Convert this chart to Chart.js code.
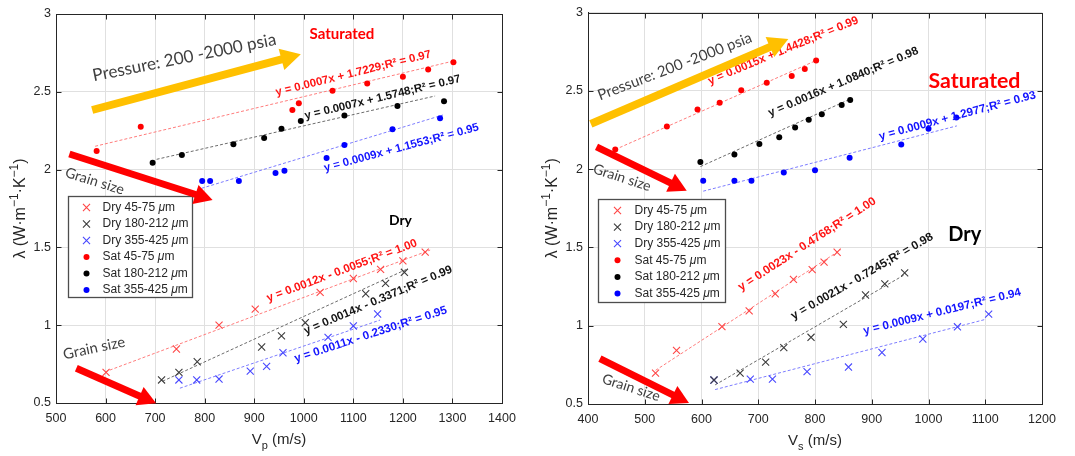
<!DOCTYPE html>
<html lang="en">
<head>
<meta charset="utf-8">
<title>Thermal conductivity vs wave velocity</title>
<script src="https://cdn.jsdelivr.net/npm/chart.js@4.4.1/dist/chart.umd.min.js"></script>
<style>
  html, body { margin: 0; padding: 0; background: #fff; }
  .panel { position: absolute; top: 0; height: 456px; }
  #vpPanel { left: 0; width: 537px; }
  #vsPanel { left: 537px; width: 538px; }
</style>
</head>
<body>
<div class="panel" id="vpPanel"><canvas id="vpChart"></canvas></div>
<div class="panel" id="vsPanel"><canvas id="vsChart"></canvas></div>
<script>
// Axis ticks
const vpTicks = [500, 600, 700, 800, 900, 1000, 1100, 1200, 1300, 1400];
const vsTicks = [400, 500, 600, 700, 800, 900, 1000, 1100, 1200];
const lambdaTicks = [0.5, 1, 1.5, 2, 2.5, 3];

const seriesNames = ['Dry 45-75', 'Dry 180-212', 'Dry 355-425', 'Sat 45-75', 'Sat 180-212', 'Sat 355-425'];

// P-wave velocity (m/s) vs conductivity (W/m/K)
const vpDry45 = [[601, 0.697], [743, 0.847], [829, 1.0], [902, 1.103], [1033, 1.211], [1100, 1.30], [1155, 1.359], [1200, 1.413], [1245, 1.470]];
const vpDry180 = [[713, 0.648], [748, 0.697], [785, 0.765], [915, 0.86], [955, 0.931], [1003, 1.016], [1125, 1.202], [1165, 1.269], [1203, 1.34]];
const vpDry355 = [[748, 0.648], [784, 0.648], [829, 0.654], [892, 0.705], [925, 0.735], [958, 0.823], [1049, 0.922], [1100, 0.995], [1149, 1.072]];
const vpSat45 = [[582, 2.12], [671, 2.276], [977, 2.383], [990, 2.426], [1058, 2.507], [1128, 2.554], [1200, 2.597], [1251, 2.644], [1302, 2.69]];
const vpSat180 = [[695, 2.044], [754, 2.094], [858, 2.163], [920, 2.203], [955, 2.263], [994, 2.312], [1082, 2.347], [1189, 2.409], [1283, 2.439]];
const vpSat355 = [[795, 1.927], [811, 1.927], [869, 1.927], [943, 1.978], [961, 1.993], [1046, 2.075], [1082, 2.158], [1179, 2.259], [1275, 2.330]];

// fitted line end points
const vpFitDry45 = [[599, 0.70], [1255, 1.483]];
const vpFitDry180 = [[715, 0.64], [1208, 1.36]];
const vpFitDry355 = [[750, 0.595], [1154, 1.033]];
const vpFitSat45 = [[579, 2.15], [1305, 2.70]];
const vpFitSat180 = [[703, 2.066], [1265, 2.473]];
const vpFitSat355 = [[794, 1.88], [1281, 2.351]];

const vpEquations = [
    'y = 0.0012x - 0.0055;R² = 1.00',
    'y = 0.0014x - 0.3371;R² = 0.99',
    'y = 0.0011x - 0.2330;R² = 0.95',
    'y = 0.0007x + 1.7229;R² = 0.97',
    'y = 0.0007x + 1.5748;R² = 0.97',
    'y = 0.0009x + 1.1553;R² = 0.95'
];

// S-wave velocity (m/s) vs conductivity (W/m/K)
const vsDry45 = [[519, 0.697], [556, 0.842], [636, 0.994], [684, 1.095], [730, 1.204], [762, 1.296], [795, 1.358], [816, 1.406], [839, 1.469]];
const vsDry180 = [[622, 0.653], [668, 0.697], [713, 0.767], [745, 0.860], [793, 0.926], [850, 1.008], [889, 1.196], [923, 1.267], [958, 1.337]];
const vsDry355 = [[622, 0.653], [686, 0.659], [725, 0.659], [786, 0.707], [859, 0.736], [918, 0.829], [990, 0.915], [1051, 0.993], [1106, 1.074]];
const vsSat45 = [[448, 2.125], [539, 2.272], [593, 2.381], [632, 2.424], [670, 2.504], [715, 2.552], [759, 2.594], [782, 2.64], [802, 2.693]];
const vsSat180 = [[598, 2.045], [658, 2.093], [702, 2.161], [737, 2.203], [765, 2.266], [789, 2.315], [812, 2.350], [847, 2.409], [862, 2.441]];
const vsSat355 = [[603, 1.926], [658, 1.926], [688, 1.926], [745, 1.978], [800, 1.993], [861, 2.072], [952, 2.157], [1000, 2.257], [1049, 2.329]];

const vsFitDry45 = [[519, 0.715], [845, 1.484]];
const vsFitDry180 = [[624, 0.622], [960, 1.33]];
const vsFitDry355 = [[624, 0.592], [1100, 1.04]];
const vsFitSat45 = [[448, 2.125], [806, 2.70]];
const vsFitSat180 = [[598, 2.016], [865, 2.452]];
const vsFitSat355 = [[603, 1.859], [1050, 2.276]];

const vsEquations = [
    'y = 0.0023x - 0.4768;R² = 1.00',
    'y = 0.0021x - 0.7245;R² = 0.98',
    'y = 0.0009x + 0.0197;R² = 0.94',
    'y = 0.0015x + 1.4428;R² = 0.99',
    'y = 0.0016x + 1.0840;R² = 0.98',
    'y = 0.0009x + 1.2977;R² = 0.93'
];

const axisFont = '"Liberation Sans", Arial, sans-serif';
const noteFont = 'Lato, "Open Sans", sans-serif';

const markerStyles = [
    { pointStyle: 'crossRot', color: '#ff4646', radius: 5 },
    { pointStyle: 'crossRot', color: '#3c3c3c', radius: 5 },
    { pointStyle: 'crossRot', color: '#4848ff', radius: 5 },
    { pointStyle: 'circle', color: '#ff0000', radius: 3 },
    { pointStyle: 'circle', color: '#000000', radius: 3 },
    { pointStyle: 'circle', color: '#0000ff', radius: 3 }
];
const fitColors = ['#ff7c7c', '#6c6c6c', '#7c7cff', '#ff7c7c', '#6c6c6c', '#7c7cff'];
const equationColors = ['#ff1414', '#141414', '#1414ff', '#ff1414', '#141414', '#1414ff'];

const YELLOW = '#ffc000';
const RED = '#ff0000';

// Layout of everything drawn on top of the plot area
const vpPanel = {
    canvas: 'vpChart',
    xTicks: vpTicks,
    xLabel: [{ t: 'V' }, { t: 'p', sub: true }, { t: ' (m/s)' }],
    padding: { left: 0, right: 35, top: 14, bottom: 0 },
    yAxisWidth: 56,
    xAxisHeight: 53,
    series: [vpDry45, vpDry180, vpDry355, vpSat45, vpSat180, vpSat355],
    fits: [vpFitDry45, vpFitDry180, vpFitDry355, vpFitSat45, vpFitSat180, vpFitSat355],
    equations: vpEquations,
    equationWidth: 160,
    equationPlaces: [
        { at: [1077, 1.35], angle: -20.5 },
        { at: [1150, 1.16], angle: -23 },
        { at: [1135, 0.94], angle: -18 },
        { at: [1100, 2.618], angle: -14 },
        { at: [1159, 2.464], angle: -13.5 },
        { at: [1197, 2.14], angle: -15 }
    ],
    notes: [
        { text: 'Saturated', at: [1077, 2.871], angle: 0, width: 65, color: '#ff0000', weight: 'bold' },
        { text: 'Dry', at: [1195, 1.670], angle: 0, width: 23, color: '#000000', weight: 'bold' },
        { text: 'Pressure: 200 -2000 psia', at: [759, 2.72], angle: -11.3, width: 187, color: '#404040' },
        { text: 'Grain size', at: [578, 1.925], angle: 17.4, width: 61, color: '#404040' },
        { text: 'Grain size', at: [577, 0.852], angle: -12, width: 63, color: '#404040' }
    ],
    arrows: [
        { from: [573, 2.383], to: [994, 2.741], color: YELLOW, shaft: 8, head: 20, headWidth: 22 },
        { from: [527, 2.10], to: [816, 1.805], color: RED, shaft: 7, head: 18, headWidth: 20 },
        { from: [541, 0.723], to: [702, 0.498], color: RED, shaft: 7, head: 18, headWidth: 20 }
    ],
    legend: { dx: 12, dy: 182, w: 124, h: 101, rowTop: 11, rowStep: 16.5, markerX: 18, textX: 34 }
};

const vsPanel = {
    canvas: 'vsChart',
    xTicks: vsTicks,
    xLabel: [{ t: 'V' }, { t: 's', sub: true }, { t: ' (m/s)' }],
    padding: { left: 0, right: 33, top: 8, bottom: 0 },
    yAxisWidth: 51,
    xAxisHeight: 52,
    series: [vsDry45, vsDry180, vsDry355, vsSat45, vsSat180, vsSat355],
    fits: [vsFitDry45, vsFitDry180, vsFitDry355, vsFitSat45, vsFitSat180, vsFitSat355],
    equations: vsEquations,
    equationWidth: 162,
    equationPlaces: [
        { at: [786, 1.52], angle: -33 },
        { at: [883, 1.315], angle: -30 },
        { at: [1024, 1.089], angle: -14 },
        { at: [744, 2.756], angle: -22.5 },
        { at: [850, 2.556], angle: -23 },
        { at: [1051, 2.34], angle: -15 }
    ],
    notes: [
        { text: 'Saturated', at: [1081, 2.56], angle: 0, width: 92, color: '#ff0000', weight: 'bold' },
        { text: 'Dry', at: [1064, 1.584], angle: 0, width: 33, color: '#000000', weight: 'bold' },
        { text: 'Pressure: 200 -2000 psia', at: [553, 2.655], angle: -21, width: 164, color: '#404040' },
        { text: 'Grain size', at: [460, 1.945], angle: 18, width: 60, color: '#404040' },
        { text: 'Grain size', at: [476, 0.604], angle: 18, width: 60, color: '#404040' }
    ],
    arrows: [
        { from: [405, 2.289], to: [753, 2.830], color: YELLOW, shaft: 8, head: 20, headWidth: 22 },
        { from: [415, 2.142], to: [574, 1.862], color: RED, shaft: 7, head: 18, headWidth: 20 },
        { from: [421, 0.790], to: [578, 0.506], color: RED, shaft: 7, head: 18, headWidth: 20 }
    ],
    legend: { dx: 10, dy: 186, w: 127, h: 103, rowTop: 11, rowStep: 16.6, markerX: 19, textX: 36 }
};

const lambdaLabel = [{ t: 'λ (W·m' }, { t: '−1', sup: true }, { t: '·K' }, { t: '−1', sup: true }, { t: ')' }];

function runFont(run, size) {
    const s = run.sup || run.sub ? Math.round(size * 0.72) : size;
    return `${s}px ${axisFont}`;
}

// draws text made of normal / superscript / subscript pieces, centred on (0,0)
function drawRuns(ctx, runs, size) {
    let total = 0;
    runs.forEach(run => {
        ctx.font = runFont(run, size);
        run.w = ctx.measureText(run.t).width;
        total += run.w;
    });
    let x = -total / 2;
    ctx.textAlign = 'left';
    ctx.textBaseline = 'middle';
    runs.forEach(run => {
        ctx.font = runFont(run, size);
        const dy = run.sup ? -size * 0.38 : run.sub ? size * 0.4 : 0;
        ctx.fillText(run.t, x, dy);
        x += run.w;
    });
}

function drawNote(ctx, note, xs, ys) {
    const weight = note.weight || 'normal';
    const family = note.family || noteFont;
    ctx.save();
    ctx.translate(xs.getPixelForValue(note.at[0]), ys.getPixelForValue(note.at[1]));
    ctx.rotate(note.angle * Math.PI / 180);
    ctx.font = `${weight} 20px ${family}`;
    const size = 20 * note.width / ctx.measureText(note.text).width;
    ctx.font = `${weight} ${size.toFixed(2)}px ${family}`;
    ctx.fillStyle = note.color;
    ctx.textAlign = 'center';
    ctx.textBaseline = 'middle';
    ctx.fillText(note.text, 0, 0);
    ctx.restore();
}

function drawArrow(ctx, arrow, xs, ys) {
    const x1 = xs.getPixelForValue(arrow.from[0]);
    const y1 = ys.getPixelForValue(arrow.from[1]);
    const x2 = xs.getPixelForValue(arrow.to[0]);
    const y2 = ys.getPixelForValue(arrow.to[1]);
    const len = Math.hypot(x2 - x1, y2 - y1);
    ctx.save();
    ctx.translate(x1, y1);
    ctx.rotate(Math.atan2(y2 - y1, x2 - x1));
    ctx.fillStyle = arrow.color;
    ctx.fillRect(0, -arrow.shaft / 2, len - arrow.head + 1, arrow.shaft);
    ctx.beginPath();
    ctx.moveTo(len, 0);
    ctx.lineTo(len - arrow.head, -arrow.headWidth / 2);
    ctx.lineTo(len - arrow.head, arrow.headWidth / 2);
    ctx.closePath();
    ctx.fill();
    ctx.restore();
}

function drawMarker(ctx, style, x, y) {
    ctx.save();
    ctx.fillStyle = style.color;
    ctx.strokeStyle = style.color;
    if (style.pointStyle === 'circle') {
        ctx.beginPath();
        ctx.arc(x, y, style.radius, 0, Math.PI * 2);
        ctx.fill();
    } else {
        const d = style.radius * Math.SQRT1_2;
        ctx.lineWidth = 1.1;
        ctx.beginPath();
        ctx.moveTo(x - d, y - d);
        ctx.lineTo(x + d, y + d);
        ctx.moveTo(x - d, y + d);
        ctx.lineTo(x + d, y - d);
        ctx.stroke();
    }
    ctx.restore();
}

function drawLegend(ctx, area, lg) {
    const left = Math.round(area.left + lg.dx) + 0.5;
    const top = Math.round(area.top + lg.dy) + 0.5;
    ctx.save();
    ctx.fillStyle = '#ffffff';
    ctx.fillRect(left, top, lg.w, lg.h);
    ctx.strokeStyle = '#4d4d4d';
    ctx.lineWidth = 1.3;
    ctx.strokeRect(left, top, lg.w, lg.h);
    ctx.textBaseline = 'middle';
    ctx.textAlign = 'left';
    seriesNames.forEach((name, i) => {
        const y = top + lg.rowTop + i * lg.rowStep;
        drawMarker(ctx, markerStyles[i], left + lg.markerX, y);
        ctx.fillStyle = '#262626';
        let x = left + lg.textX;
        ctx.font = `12px ${axisFont}`;
        ctx.fillText(name + ' ', x, y);
        x += ctx.measureText(name + ' ').width;
        ctx.font = `italic 12px ${axisFont}`;
        ctx.fillText('μ', x, y);
        x += ctx.measureText('μ').width;
        ctx.font = `12px ${axisFont}`;
        ctx.fillText('m', x, y);
    });
    ctx.restore();
}

function makeDecor(cfg) {
    return {
        id: 'panelDecor',
        afterDraw(chart) {
            const ctx = chart.ctx;
            const area = chart.chartArea;
            const xs = chart.scales.x;
            const ys = chart.scales.y;

            // box and inward tick marks
            ctx.save();
            ctx.strokeStyle = '#262626';
            ctx.lineWidth = 1;
            const l = Math.round(area.left) + 0.5, r = Math.round(area.right) + 0.5;
            const t = Math.round(area.top) + 0.5, b = Math.round(area.bottom) + 0.5;
            ctx.strokeRect(l, t, r - l, b - t);
            ctx.beginPath();
            cfg.xTicks.forEach(v => {
                const x = Math.round(xs.getPixelForValue(v)) + 0.5;
                ctx.moveTo(x, b); ctx.lineTo(x, b - 5);
                ctx.moveTo(x, t); ctx.lineTo(x, t + 5);
            });
            lambdaTicks.forEach(v => {
                const y = Math.round(ys.getPixelForValue(v)) + 0.5;
                ctx.moveTo(l, y); ctx.lineTo(l + 5, y);
                ctx.moveTo(r, y); ctx.lineTo(r - 5, y);
            });
            ctx.stroke();
            ctx.restore();

            cfg.equations.forEach((text, i) => {
                const place = cfg.equationPlaces[i];
                drawNote(ctx, {
                    text, at: place.at, angle: place.angle, width: cfg.equationWidth,
                    color: equationColors[i], weight: 'bold', family: axisFont
                }, xs, ys);
            });
            cfg.notes.forEach(note => drawNote(ctx, note, xs, ys));
            drawLegend(ctx, area, cfg.legend);
            cfg.arrows.forEach(arrow => drawArrow(ctx, arrow, xs, ys));

            // axis titles
            ctx.save();
            ctx.fillStyle = '#262626';
            ctx.translate((area.left + area.right) / 2, area.bottom + 37);
            drawRuns(ctx, cfg.xLabel, 15);
            ctx.restore();

            ctx.save();
            ctx.fillStyle = '#262626';
            ctx.translate(area.left - 35, (area.top + area.bottom) / 2);
            ctx.rotate(-Math.PI / 2);
            drawRuns(ctx, lambdaLabel, 16);
            ctx.restore();
        }
    };
}

function createPanel(cfg) {
    const datasets = [];
    cfg.series.forEach((points, i) => {
        const style = markerStyles[i];
        datasets.push({
            type: 'scatter',
            label: seriesNames[i],
            data: points.map(([x, y]) => ({ x, y })),
            pointStyle: style.pointStyle,
            pointRadius: style.radius,
            pointBorderWidth: style.pointStyle === 'circle' ? 0 : 1.1,
            pointBackgroundColor: style.color,
            pointBorderColor: style.color,
            order: 1
        });
    });
    cfg.fits.forEach((ends, i) => {
        datasets.push({
            type: 'line',
            data: ends.map(([x, y]) => ({ x, y })),
            borderColor: fitColors[i],
            borderWidth: 1,
            borderDash: [3, 2],
            pointRadius: 0,
            fill: false,
            order: 2
        });
    });

    const tickFont = { family: axisFont, size: 12.5 };
    return new Chart(document.getElementById(cfg.canvas), {
        type: 'scatter',
        data: { datasets },
        options: {
            responsive: true,
            maintainAspectRatio: false,
            animation: false,
            layout: { padding: cfg.padding },
            plugins: { legend: { display: false }, tooltip: { enabled: false } },
            scales: {
                x: {
                    type: 'linear',
                    min: cfg.xTicks[0],
                    max: cfg.xTicks[cfg.xTicks.length - 1],
                    afterBuildTicks: scale => { scale.ticks = cfg.xTicks.map(value => ({ value })); },
                    afterFit: scale => { scale.height = cfg.xAxisHeight; },
                    ticks: { color: '#262626', font: tickFont, padding: 8, maxRotation: 0, autoSkip: false, callback: v => String(v) },
                    grid: { color: '#e0e0e0', lineWidth: 1, drawTicks: false },
                    border: { display: true, color: '#262626', width: 1 }
                },
                y: {
                    type: 'linear',
                    min: lambdaTicks[0],
                    max: lambdaTicks[lambdaTicks.length - 1],
                    afterBuildTicks: scale => { scale.ticks = lambdaTicks.map(value => ({ value })); },
                    afterFit: scale => { scale.width = cfg.yAxisWidth; },
                    ticks: { color: '#262626', font: tickFont, padding: 5, autoSkip: false, callback: v => String(v) },
                    grid: { color: '#e0e0e0', lineWidth: 1, drawTicks: false },
                    border: { display: true, color: '#262626', width: 1 }
                }
            }
        },
        plugins: [makeDecor(cfg)]
    });
}

createPanel(vpPanel);
createPanel(vsPanel);
</script>
</body>
</html>
